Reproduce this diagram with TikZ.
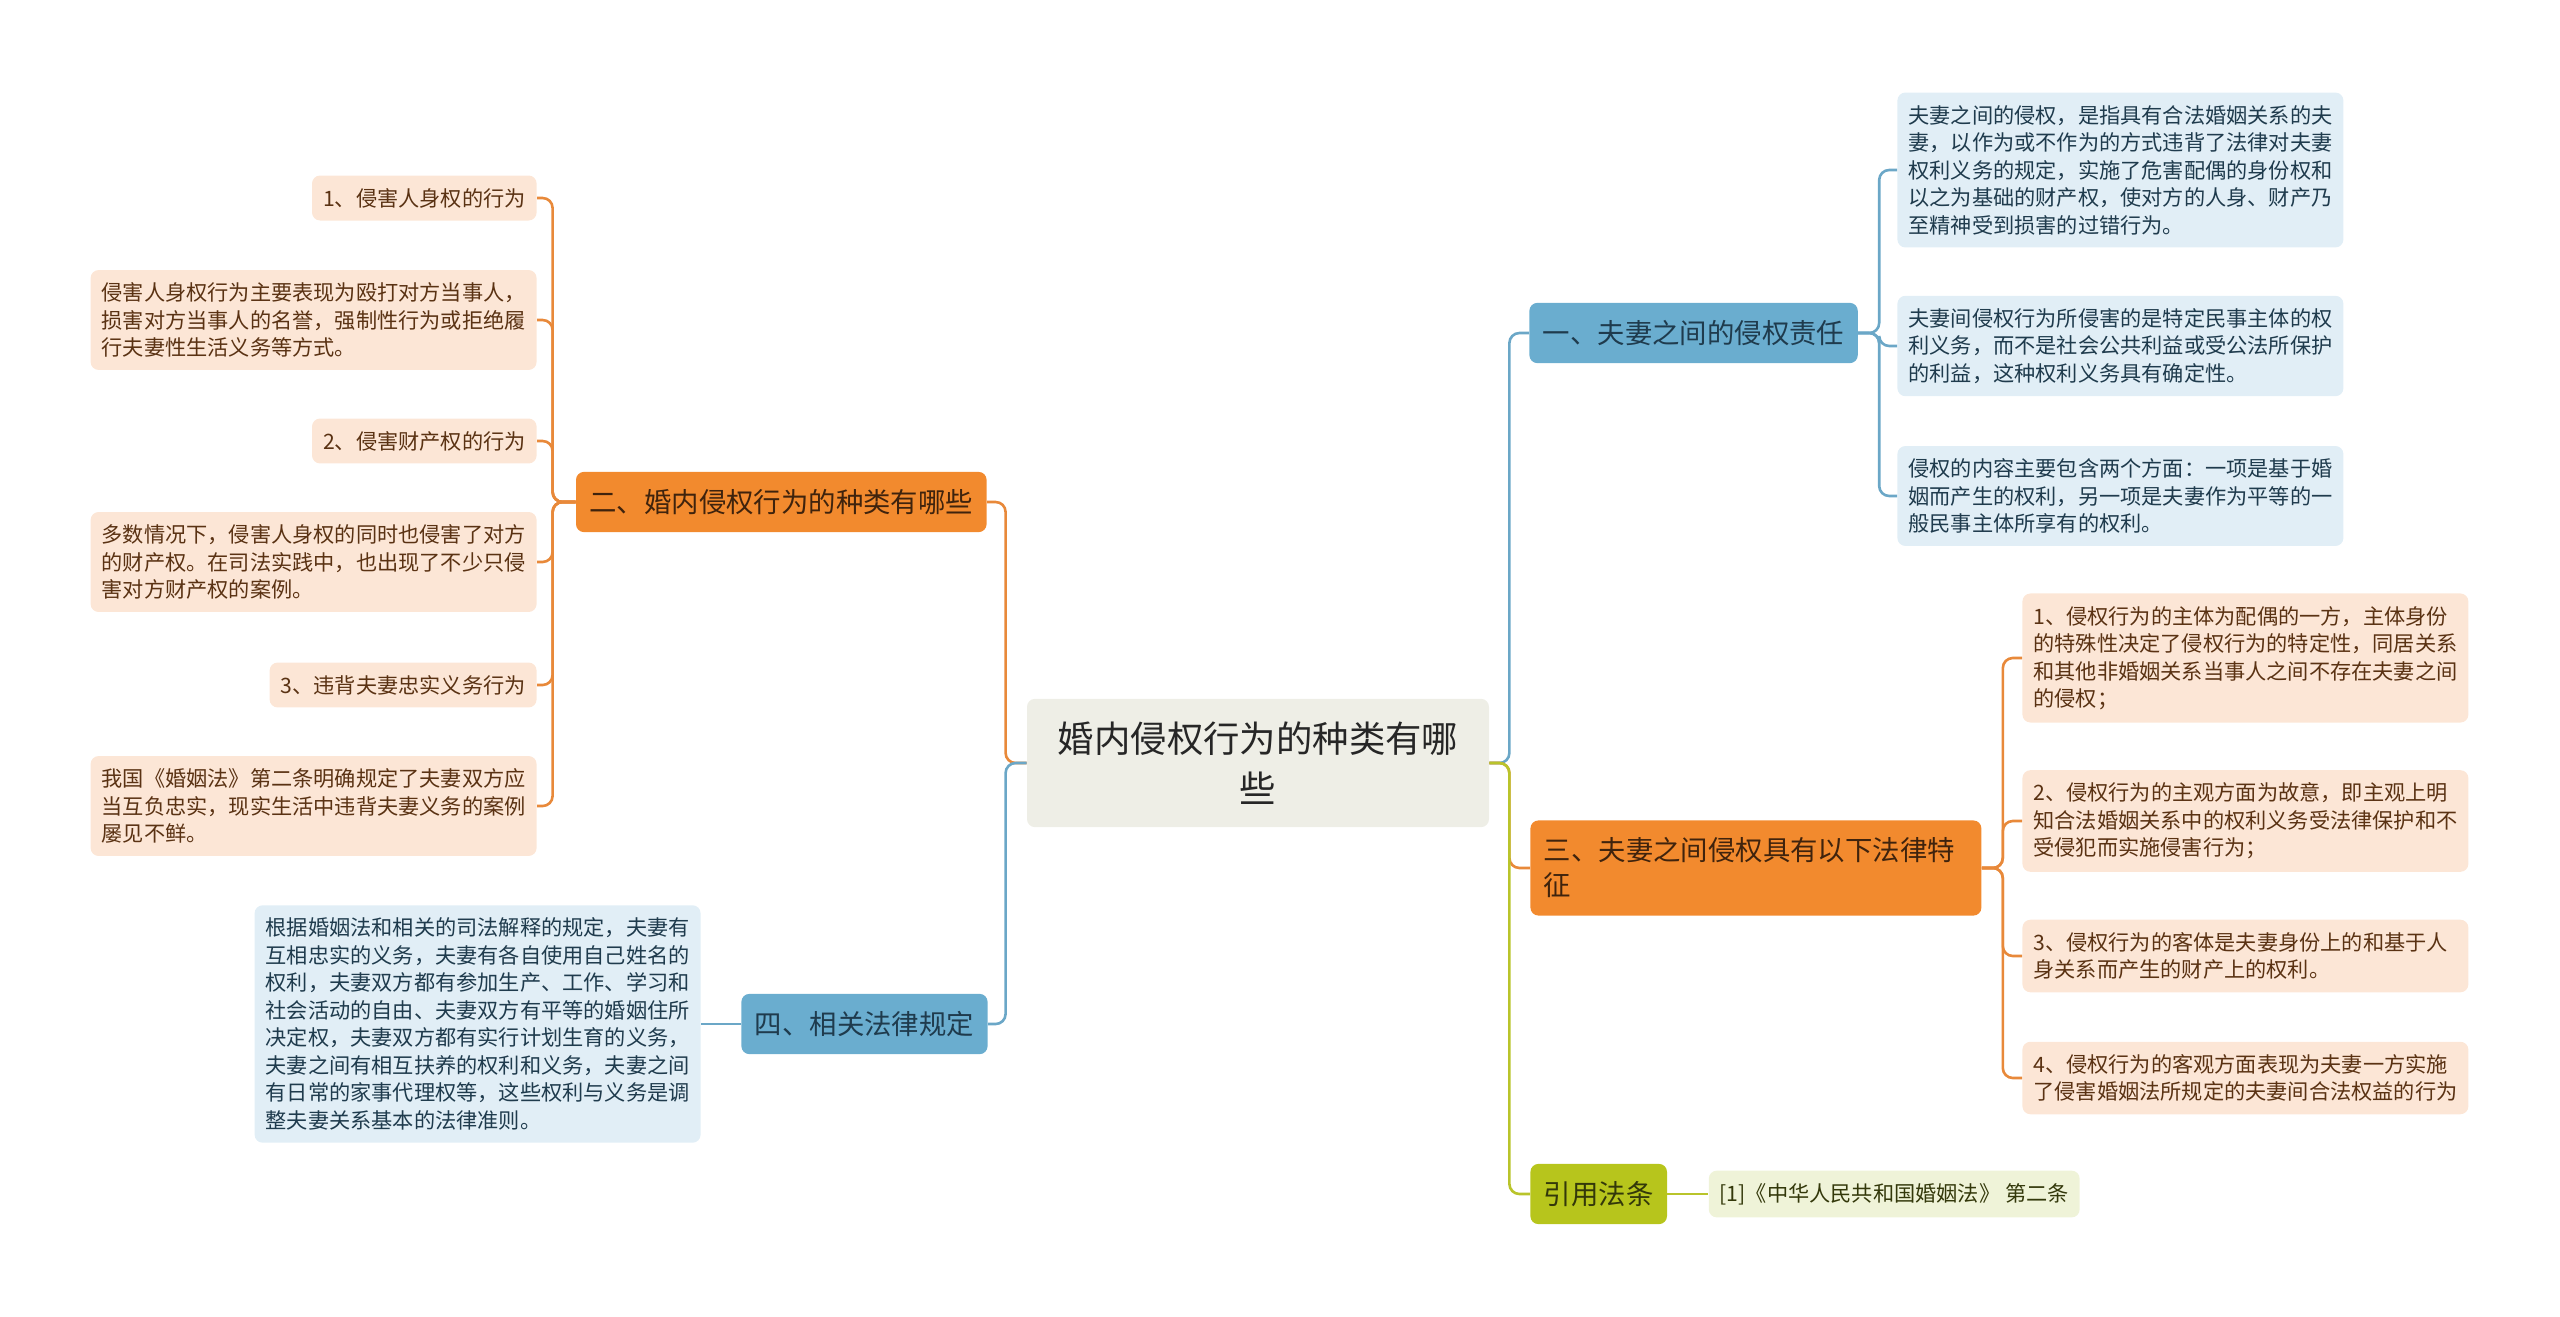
\documentclass[tikz,border=0pt]{standalone}
\usepackage{fontspec}
\setmainfont{Noto Sans CJK SC}
\usetikzlibrary{positioning}

\definecolor{rootfill}{HTML}{EEEEE6}
\definecolor{orgmain}{HTML}{F28A2E}
\definecolor{orgleaf}{HTML}{FCE6D6}
\definecolor{orgline}{HTML}{E8893A}
\definecolor{orgtext}{HTML}{5A3213}
\definecolor{blumain}{HTML}{6AADCF}
\definecolor{bluleaf}{HTML}{E1EEF6}
\definecolor{bluline}{HTML}{6BA7C7}
\definecolor{blutext}{HTML}{1F3B4D}
\definecolor{grnmain}{HTML}{B7C51C}
\definecolor{grnleaf}{HTML}{EFF3D8}
\definecolor{grnline}{HTML}{B9C42B}
\definecolor{grntext}{HTML}{33380A}

\begin{document}
\begin{tikzpicture}[
        x=0.5pt, y=-0.5pt,
        rootbox/.style={rectangle, rounded corners=4pt, fill=rootfill, text=black!85,
            font=\fontsize{18.2}{25}\selectfont, align=center, text width=202pt,
            inner xsep=14.5pt, inner ysep=11.4pt},
        mainbox/.style={rectangle, rounded corners=4pt,
            font=\fontsize{13.7}{17.5}\selectfont, inner xsep=6.75pt, inner ysep=8.7pt},
        bmain/.style={mainbox, fill=blumain, text=blutext},
        omain/.style={mainbox, fill=orgmain, text=orgtext!70!black},
        gmain/.style={mainbox, fill=grnmain, text=grntext},
        leafbox/.style={rectangle, rounded corners=4pt, align=left,
            font=\fontsize{10.6}{13.75}\selectfont, inner xsep=5.5pt, inner ysep=6.3pt},
        bleaf/.style={leafbox, fill=bluleaf, text=blutext},
        oleaf/.style={leafbox, fill=orgleaf, text=orgtext},
        gleaf/.style={leafbox, fill=grnleaf, text=grntext},
        wide/.style={text width=212pt},
        bline/.style={draw=bluline, line width=1.3pt, rounded corners=5pt},
        oline/.style={draw=orgline, line width=1.3pt, rounded corners=5pt},
        gline/.style={draw=grnline, line width=1.3pt, rounded corners=5pt},
    ]
        \useasboundingbox (0,0) rectangle (2560,1317);

        \node[rootbox] (root) at (1258,763) {婚内侵权行为的种类有哪\\些};

        % right side
        \node[bmain, anchor=west] (b1) at (1529,333) {一、夫妻之间的侵权责任};
        \node[omain, anchor=west, text width=212pt, align=left] (b3) at (1530,868)
            {三、夫妻之间侵权具有以下法律特\\征};
        \node[gmain, anchor=west] (b5) at (1530,1194) {引用法条};
        \node[gleaf, right=20.5pt of b5] (cite) {[1]《中华人民共和国婚姻法》 第二条};

        \node[bleaf, wide, anchor=west] (b1a) at (1897,170)
            {夫妻之间的侵权，是指具有合法婚姻关系的夫\\妻，以作为或不作为的方式违背了法律对夫妻\\权利义务的规定，实施了危害配偶的身份权和\\以之为基础的财产权，使对方的人身、财产乃\\至精神受到损害的过错行为。};
        \node[bleaf, wide, anchor=west] (b1b) at (1897,346)
            {夫妻间侵权行为所侵害的是特定民事主体的权\\利义务，而不是社会公共利益或受公法所保护\\的利益，这种权利义务具有确定性。};
        \node[bleaf, wide, anchor=west] (b1c) at (1897,496)
            {侵权的内容主要包含两个方面：一项是基于婚\\姻而产生的权利，另一项是夫妻作为平等的一\\般民事主体所享有的权利。};

        \node[oleaf, wide, anchor=west] (b3a) at (2022,658)
            {1、侵权行为的主体为配偶的一方，主体身份\\的特殊性决定了侵权行为的特定性，同居关系\\和其他非婚姻关系当事人之间不存在夫妻之间\\的侵权；};
        \node[oleaf, wide, anchor=west] (b3b) at (2022,821)
            {2、侵权行为的主观方面为故意，即主观上明\\知合法婚姻关系中的权利义务受法律保护和不\\受侵犯而实施侵害行为；};
        \node[oleaf, wide, anchor=west] (b3c) at (2022,956)
            {3、侵权行为的客体是夫妻身份上的和基于人\\身关系而产生的财产上的权利。};
        \node[oleaf, wide, anchor=west] (b3d) at (2022,1078)
            {4、侵权行为的客观方面表现为夫妻一方实施\\了侵害婚姻法所规定的夫妻间合法权益的行为};

        % left side
        \node[omain, anchor=east] (b2) at (987,502) {二、婚内侵权行为的种类有哪些};
        \node[bmain, anchor=east] (b4) at (988,1024) {四、相关法律规定};
        \node[bleaf, wide, left=20pt of b4] (b4a)
            {根据婚姻法和相关的司法解释的规定，夫妻有\\互相忠实的义务，夫妻有各自使用自己姓名的\\权利，夫妻双方都有参加生产、工作、学习和\\社会活动的自由、夫妻双方有平等的婚姻住所\\决定权，夫妻双方都有实行计划生育的义务，\\夫妻之间有相互扶养的权利和义务，夫妻之间\\有日常的家事代理权等，这些权利与义务是调\\整夫妻关系基本的法律准则。};

        \node[oleaf, anchor=east] (b2a) at (537,198) {1、侵害人身权的行为};
        \node[oleaf, wide, anchor=east] (b2b) at (537,320)
            {侵害人身权行为主要表现为殴打对方当事人，\\损害对方当事人的名誉，强制性行为或拒绝履\\行夫妻性生活义务等方式。};
        \node[oleaf, anchor=east] (b2c) at (537,441) {2、侵害财产权的行为};
        \node[oleaf, wide, anchor=east] (b2d) at (537,562)
            {多数情况下，侵害人身权的同时也侵害了对方\\的财产权。在司法实践中，也出现了不少只侵\\害对方财产权的案例。};
        \node[oleaf, anchor=east] (b2e) at (537,685) {3、违背夫妻忠实义务行为};
        \node[oleaf, wide, anchor=east] (b2f) at (537,806)
            {我国《婚姻法》第二条明确规定了夫妻双方应\\当互负忠实，现实生活中违背夫妻义务的案例\\屡见不鲜。};

        % connectors
        \draw[bline] (root.east) -- ++(20,0) |- (b1.west);
        \draw[oline] (root.east) -- ++(20,0) |- (b3.west);
        \draw[gline] (root.east) -- ++(20,0) |- (b5.west);
        \draw[oline] (root.west) -- ++(-21,0) |- (b2.east);
        \draw[bline] (root.west) -- ++(-21,0) |- (b4.east);

        \draw[bline] (b1.east) -- ++(21,0) |- (b1a.west);
        \draw[bline] (b1.east) -- ++(21,0) |- (b1b.west);
        \draw[bline] (b1.east) -- ++(21,0) |- (b1c.west);

        \draw[oline] (b3.east) -- ++(21,0) |- (b3a.west);
        \draw[oline] (b3.east) -- ++(21,0) |- (b3b.west);
        \draw[oline] (b3.east) -- ++(21,0) |- (b3c.west);
        \draw[oline] (b3.east) -- ++(21,0) |- (b3d.west);

        \draw[gline] (b5.east) -- (cite.west);

        \draw[oline] (b2.west) -- ++(-23,0) |- (b2a.east);
        \draw[oline] (b2.west) -- ++(-23,0) |- (b2b.east);
        \draw[oline] (b2.west) -- ++(-23,0) |- (b2c.east);
        \draw[oline] (b2.west) -- ++(-23,0) |- (b2d.east);
        \draw[oline] (b2.west) -- ++(-23,0) |- (b2e.east);
        \draw[oline] (b2.west) -- ++(-23,0) |- (b2f.east);

        \draw[bline] (b4.west) -- (b4a.east);
    \end{tikzpicture}
\end{document}
